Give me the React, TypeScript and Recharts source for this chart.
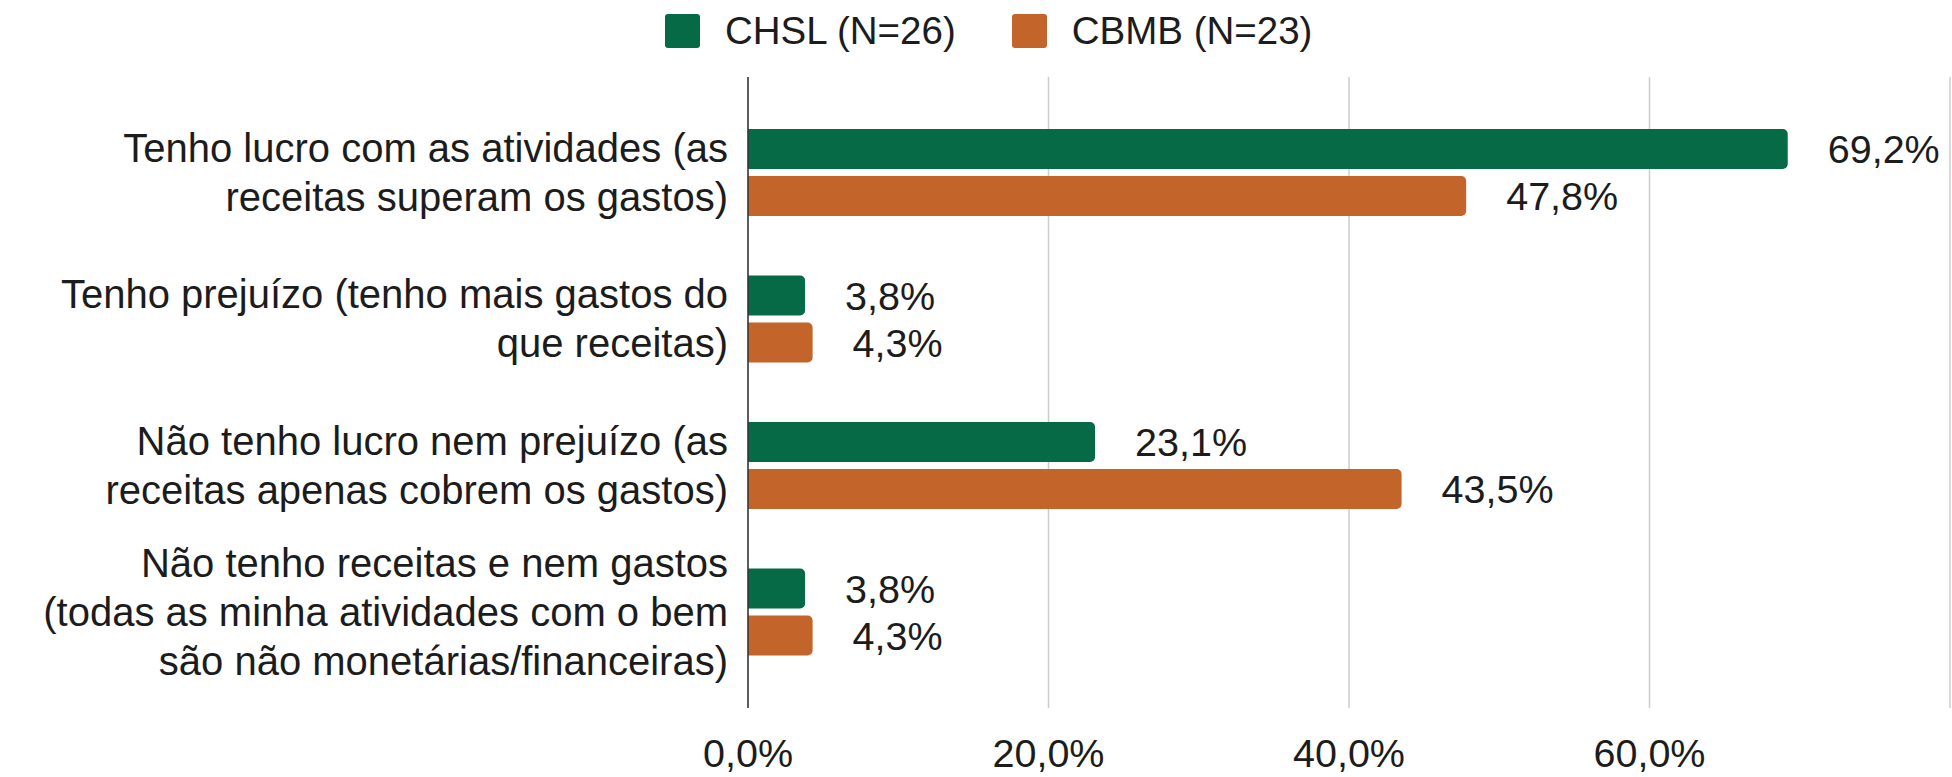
import React from 'react';
import { BarChart, Bar, XAxis, YAxis, CartesianGrid, LabelList } from 'recharts';

// respostas (quebras de linha como no original)
const categories = [
  'Tenho lucro com as atividades (as\nreceitas superam os gastos)',
  'Tenho prejuízo (tenho mais gastos do\nque receitas)',
  'Não tenho lucro nem prejuízo (as\nreceitas apenas cobrem os gastos)',
  'Não tenho receitas e nem gastos\n(todas as minha atividades com o bem\nsão não monetárias/financeiras)',
];
const chsl = [69.2, 3.8, 23.1, 3.8];
const cbmb = [47.8, 4.3, 43.5, 4.3];
const xTicks = [0, 20, 40, 60, 80];

const GREEN = '#066a47';
const ORANGE = '#c3652a';
const FONT = '"Liberation Sans", Arial, sans-serif';
const TEXT = '#1c1c1c';

const data = categories.map((name, i) => ({ name, chsl: chsl[i], cbmb: cbmb[i] }));

const pct = (v: any) => `${Number(v).toFixed(1).replace('.', ',')}%`;

function CategoryTick({ x, y, payload }: any) {
  const lines = String(payload.value).split('\n');
  const lh = 49;
  const first = -((lines.length - 1) / 2) * lh;
  return (
    <text x={x} y={y} textAnchor="end" fontSize={40} fontFamily={FONT} fill={TEXT}>
      {lines.map((l, i) => (
        <tspan key={i} x={x} y={y + first + i * lh + 14}>
          {l}
        </tspan>
      ))}
    </text>
  );
}

function LegendItem({ color, label }: { color: string; label: string }) {
  return (
    <div style={{ display: 'flex', alignItems: 'center', marginRight: 56 }}>
      <div style={{ width: 35, height: 34, background: color, borderRadius: 3, marginRight: 25 }} />
      <span style={{ fontSize: 38.5, fontFamily: FONT, color: TEXT }}>{label}</span>
    </div>
  );
}

export default function App() {
  return (
    <div style={{ position: 'absolute', left: 0, top: 0, width: 1952, height: 777, background: '#fff' }}>
      <div style={{ position: 'absolute', left: 665, top: 9, display: 'flex', height: 44, alignItems: 'center' }}>
        <LegendItem color={GREEN} label="CHSL (N=26)" />
        <LegendItem color={ORANGE} label="CBMB (N=23)" />
      </div>
      <BarChart
        width={1952}
        height={777}
        data={data}
        layout="vertical"
        margin={{ top: 77, right: 2, bottom: 0, left: 0 }}
        barSize={40}
        barGap={7}
      >
        <CartesianGrid horizontal={false} vertical stroke="#cccccc" strokeWidth={1.5} />
        <XAxis
          type="number"
          domain={[0, 80]}
          ticks={xTicks}
          interval={0}
          height={69}
          axisLine={false}
          tickLine={false}
          tickSize={0}
          tickMargin={31}
          tickFormatter={(v: number) => (v === 80 ? '' : pct(v))}
          tick={{ fontSize: 39.5, fontFamily: FONT, fill: TEXT }}
        />
        <YAxis
          type="category"
          dataKey="name"
          width={748}
          padding={{ top: 22, bottom: 23 }}
          axisLine={{ stroke: '#333', strokeWidth: 1.5 }}
          tickLine={false}
          tickSize={0}
          tickMargin={20}
          interval={0}
          tick={<CategoryTick />}
        />
        <Bar dataKey="chsl" fill={GREEN} radius={[0, 5, 5, 0]} isAnimationActive={false}>
          <LabelList
            dataKey="chsl"
            position="right"
            offset={40}
            formatter={pct}
            style={{ fontSize: 39.5, fontFamily: FONT, fill: TEXT }}
          />
        </Bar>
        <Bar dataKey="cbmb" fill={ORANGE} radius={[0, 5, 5, 0]} isAnimationActive={false}>
          <LabelList
            dataKey="cbmb"
            position="right"
            offset={40}
            formatter={pct}
            style={{ fontSize: 39.5, fontFamily: FONT, fill: TEXT }}
          />
        </Bar>
      </BarChart>
    </div>
  );
}
